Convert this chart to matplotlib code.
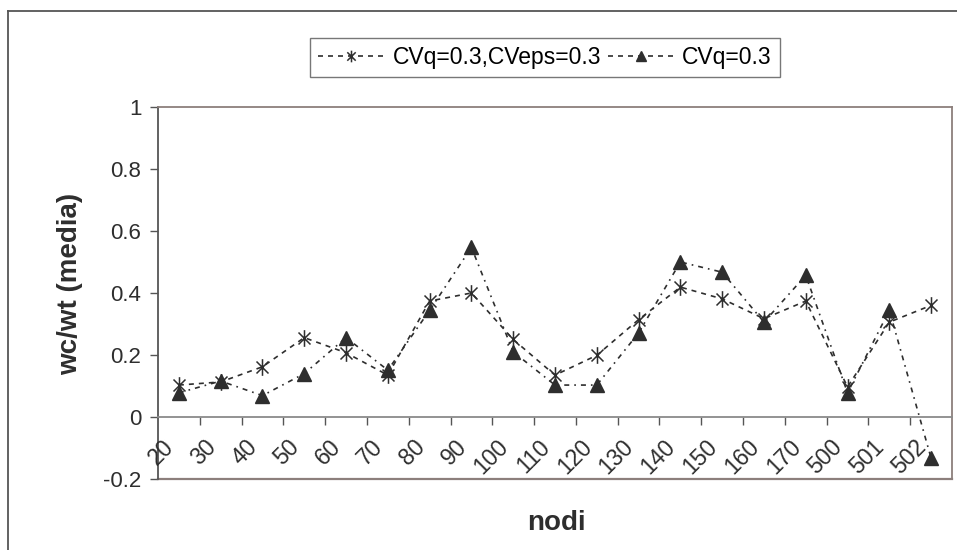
import matplotlib
matplotlib.use("Agg")
import matplotlib.pyplot as plt
from matplotlib.path import Path
from matplotlib.lines import Line2D
from matplotlib.transforms import offset_copy

plt.rcParams['font.family'] = ['Liberation Sans', 'DejaVu Sans']

# categories on the x axis
nodi = ['20', '30', '40', '50', '60', '70', '80', '90', '100', '110',
        '120', '130', '140', '150', '160', '170', '500', '501', '502']

# wc/wt (media) values
cvq_cveps = [0.103, 0.113, 0.162, 0.256, 0.207, 0.135, 0.374, 0.400, 0.250, 0.135,
             0.199, 0.314, 0.419, 0.381, 0.317, 0.374, 0.097, 0.306, 0.360]
cvq = [0.078, 0.116, 0.069, 0.140, 0.256, 0.151, 0.344, 0.547, 0.210, 0.103,
       0.103, 0.271, 0.500, 0.467, 0.306, 0.457, 0.078, 0.344, -0.133]

y_ticks = [-0.2, 0, 0.2, 0.4, 0.6, 0.8, 1]
y_labels = ['-0.2', '0', '0.2', '0.4', '0.6', '0.8', '1']

dark = '#2e2e2e'
frame = '#8c7f7c'

# excel style star: vertical bar plus an x
d = 0.72
star = Path([(0, -1), (0, 1), (-d, -d), (d, d), (-d, d), (d, -d)],
            [Path.MOVETO, Path.LINETO, Path.MOVETO, Path.LINETO, Path.MOVETO, Path.LINETO])

fig = plt.figure(figsize=(9.57, 5.5), dpi=100)
ax = fig.add_axes([0.1651, 0.1291, 0.8297, 0.6764])

x = list(range(len(nodi)))
ax.plot(x, cvq_cveps, color=dark, lw=1.2, linestyle=(0, (3, 3)),
        marker=star, markersize=12, markeredgewidth=1.1, markeredgecolor=dark,
        label='CVq=0.3,CVeps=0.3', clip_on=False, zorder=3)
ax.plot(x, cvq, color=dark, lw=1.2, linestyle=(0, (3, 3, 1, 3)),
        marker='^', markersize=10.5, markerfacecolor=dark, markeredgecolor=dark,
        label='CVq=0.3', clip_on=False, zorder=3)

ax.set_xlim(-0.5, len(nodi) - 0.5)
ax.set_ylim(-0.2, 1)

# plot area frame
for s in ['top', 'right']:
    ax.spines[s].set_color(frame)
    ax.spines[s].set_linewidth(1.3)
ax.spines['left'].set_color('#555555')
ax.spines['left'].set_linewidth(1.3)
ax.spines['bottom'].set_position(('data', 0))
ax.spines['bottom'].set_color('#8a8a8a')
ax.spines['bottom'].set_linewidth(1.3)
ax.plot([0, 1], [0, 0], transform=ax.transAxes, color=frame, lw=1.6, clip_on=False)

ax.set_yticks(y_ticks)
ax.set_yticklabels(y_labels, fontsize=16, color=dark)
ax.tick_params(axis='y', direction='out', length=6, width=1, color='#555555', pad=6)

# x ticks at category boundaries, labels rotated
ax.set_xticks([i - 0.5 for i in range(1, len(nodi))])
ax.set_xticklabels([])
ax.tick_params(axis='x', direction='out', length=6, width=1, color='#555555')
lab_tr = offset_copy(ax.transData, fig=fig, x=0, y=-13, units='points')
for i, lab in enumerate(nodi):
    ax.text(i - 0.5 + 0.1, 0, lab, rotation=45, ha='right', va='top',
            rotation_mode='anchor', fontsize=16.5, color=dark, transform=lab_tr)

fig.text(70 / 957, 1 - 284 / 550, 'wc/wt (media)', rotation=90, ha='center', va='center',
         fontsize=20, fontweight='bold', color=dark)
fig.text(556 / 957, 1 - 523 / 550, 'nodi', ha='center', va='center',
         fontsize=20, fontweight='bold', color=dark)

leg = ax.legend(loc='upper left', bbox_to_anchor=(310 / 957, 1 - 38 / 550),
                bbox_transform=fig.transFigure, ncol=2, fontsize=16.5, frameon=True,
                fancybox=False, edgecolor='#555555', borderaxespad=0, handlelength=2.9,
                handletextpad=0.35, columnspacing=0.3, borderpad=0.35, markerscale=0.7)
leg.get_frame().set_linewidth(1)
for h in leg.get_lines():
    h.set_linestyle((0, (3, 3)))

# outer chart border
fig.add_artist(Line2D([8 / 957, 8 / 957], [0, 1 - 11 / 550], color='#555555', lw=1.3))
fig.add_artist(Line2D([8 / 957, 1], [1 - 11 / 550, 1 - 11 / 550], color='#555555', lw=1.3))

fig.savefig('out.png', dpi=100)
